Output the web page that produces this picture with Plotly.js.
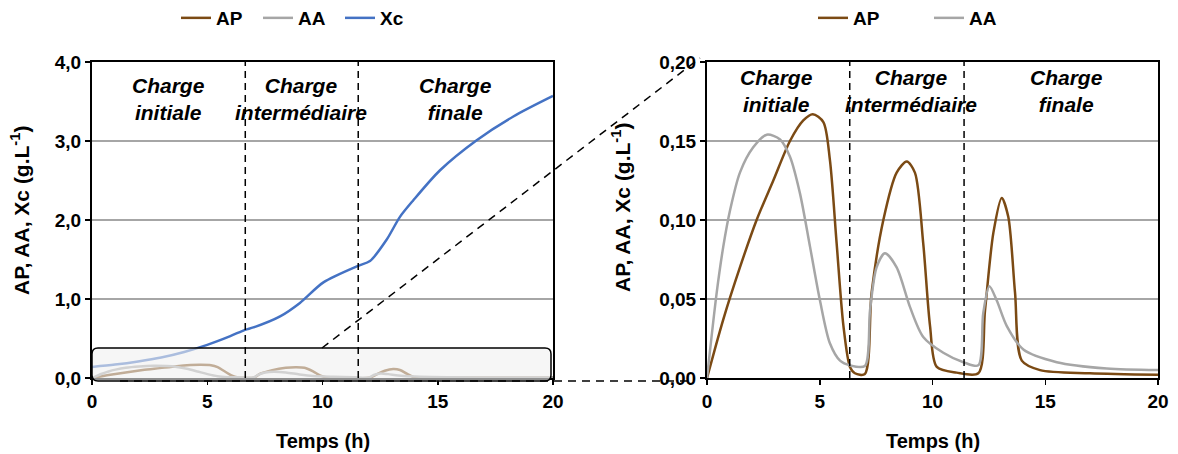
<!DOCTYPE html>
<html><head><meta charset="utf-8">
<script src="https://cdn.plot.ly/plotly-3.0.1.min.js"></script>
<style>html,body{margin:0;padding:0;background:#fff}#chart{width:1178px;height:454px}</style>
</head><body><div id="chart"></div>
<script>
// ---- data ----
const xcTime = [0, 1, 2, 3, 4, 5, 6, 6.64, 7.0, 8.16, 9.02, 10.04, 11.55, 12.06, 12.78, 13.36, 13.94, 15.1, 16.69, 18.28, 20];
const xcValues = [0.14, 0.17, 0.21, 0.26, 0.33, 0.42, 0.53, 0.61, 0.64, 0.78, 0.95, 1.21, 1.42, 1.48, 1.75, 2.04, 2.25, 2.63, 3.01, 3.31, 3.57];

const apTime = [0, 0.72, 1.46, 2.2, 2.94, 3.68, 4.27, 4.69, 5.16, 5.45, 5.75, 6.05, 6.34, 6.56, 7.0, 7.3, 7.82, 8.41, 8.86, 9.22, 9.59, 9.89, 10.19, 11.07, 12.03, 12.33, 12.7, 13.07, 13.36, 13.66, 13.96, 14.77, 16.98, 20];
const apValues = [0, 0.037, 0.070, 0.100, 0.125, 0.150, 0.163, 0.167, 0.162, 0.138, 0.085, 0.033, 0.007, 0.003, 0.0025, 0.054, 0.100, 0.130, 0.137, 0.130, 0.085, 0.033, 0.007, 0.0034, 0.003, 0.043, 0.092, 0.114, 0.102, 0.054, 0.011, 0.005, 0.003, 0.002];

const aaTime = [0, 0.43, 0.72, 1.02, 1.46, 2.05, 2.65, 3.24, 3.68, 4.12, 4.57, 5.01, 5.45, 5.9, 6.34, 7.0, 7.23, 7.52, 7.89, 8.41, 9.0, 9.59, 10.48, 11.37, 12.03, 12.25, 12.52, 12.85, 13.29, 14.03, 15.51, 17.73, 20];
const aaValues = [0, 0.054, 0.083, 0.106, 0.130, 0.146, 0.154, 0.151, 0.140, 0.117, 0.083, 0.049, 0.022, 0.011, 0.008, 0.0076, 0.043, 0.070, 0.079, 0.070, 0.045, 0.026, 0.016, 0.010, 0.008, 0.041, 0.058, 0.049, 0.033, 0.018, 0.010, 0.006, 0.005];

const seriesNames = ['AP', 'AA', 'Xc'];
const phaseLabels = ['Charge<br>initiale', 'Charge<br>intermédiaire', 'Charge<br>finale'];
const leftPhaseBounds = [6.65, 11.55];
const rightPhaseBounds = [6.33, 11.4];
const leftPhaseLabelX = [3.3, 9.07, 15.75];
const rightPhaseLabelX = [3.1, 9.05, 15.96];
const axisTitleX = 'Temps (h)';
const axisTitleY = 'AP, AA, Xc (g.L<sup>-1</sup>)';

// ---- styling ----
const FAM = 'Liberation Sans, Arial, sans-serif';
const cAP = '#7b4a14', cAA = '#a6a6a6', cXc = '#4472c4';
const W = 1178, H = 454, ML = 92, MR = 20, MT = 62, MB = 76;
const PW = W - ML - MR, PH = H - MT - MB;
const px = v => (v - ML) / PW;
const py = v => (H - MB - v) / PH;

const sm = 0.8;
const traces = [
  {x: apTime, y: apValues, name: seriesNames[0], mode: 'lines', line: {color: cAP, width: 2.5, shape: 'spline', smoothing: sm}, xaxis: 'x', yaxis: 'y', legend: 'legend'},
  {x: aaTime, y: aaValues, name: seriesNames[1], mode: 'lines', line: {color: cAA, width: 2.5, shape: 'spline', smoothing: sm}, xaxis: 'x', yaxis: 'y', legend: 'legend'},
  {x: xcTime, y: xcValues, name: seriesNames[2], mode: 'lines', line: {color: cXc, width: 2.5, shape: 'spline', smoothing: sm}, xaxis: 'x', yaxis: 'y', legend: 'legend'},
  {x: apTime, y: apValues, name: seriesNames[0], mode: 'lines', line: {color: cAP, width: 2.5, shape: 'spline', smoothing: sm}, xaxis: 'x2', yaxis: 'y2', legend: 'legend2'},
  {x: aaTime, y: aaValues, name: seriesNames[1], mode: 'lines', line: {color: cAA, width: 2.5, shape: 'spline', smoothing: sm}, xaxis: 'x2', yaxis: 'y2', legend: 'legend2'}
];

const tickFont = {family: FAM, size: 19, color: '#000', weight: 'bold'};
const axBase = {
  showline: true, mirror: true, linecolor: '#000', linewidth: 2,
  ticks: 'outside', ticklen: 5, tickwidth: 1.5, tickcolor: '#000',
  tickfont: tickFont, zeroline: false, fixedrange: true
};

const shapes = [];
// rectangle (zoom area) on left plot
const rx0 = px(92), rx1 = px(551), ry0 = py(381), ry1 = py(348);
const rrx = 6 / PW, rry = 6 / PH;
shapes.push({
  type: 'path', xref: 'paper', yref: 'paper', layer: 'above',
  path: `M${rx0 + rrx},${ry1} L${rx1 - rrx},${ry1} Q${rx1},${ry1} ${rx1},${ry1 - rry} L${rx1},${ry0 + rry} Q${rx1},${ry0} ${rx1 - rrx},${ry0} L${rx0 + rrx},${ry0} Q${rx0},${ry0} ${rx0},${ry0 + rry} L${rx0},${ry1 - rry} Q${rx0},${ry1} ${rx0 + rrx},${ry1} Z`,
  fillcolor: 'rgba(240,240,240,0.6)', line: {color: '#000', width: 1.5}
});
// phase boundaries
leftPhaseBounds.forEach(b => shapes.push({type: 'line', xref: 'x', yref: 'y domain', x0: b, x1: b, y0: 0, y1: 1, layer: 'above', line: {color: '#000', width: 1.5, dash: '7px,5px'}}));
rightPhaseBounds.forEach(b => shapes.push({type: 'line', xref: 'x2', yref: 'y2 domain', x0: b, x1: b, y0: 0, y1: 1, layer: 'above', line: {color: '#000', width: 1.5, dash: '7px,5px'}}));
// zoom connector lines
shapes.push({type: 'line', xref: 'paper', yref: 'paper', x0: px(322), y0: py(348), x1: px(700), y1: py(58), layer: 'above', line: {color: '#000', width: 1.5, dash: '8px,6px'}});
shapes.push({type: 'line', xref: 'paper', yref: 'paper', x0: px(120), y0: py(381), x1: px(692), y1: py(381), layer: 'above', line: {color: '#000', width: 1.5, dash: '8px,6px'}});

const annFont = {family: FAM, size: 21, color: '#000', weight: 'bold', style: 'italic'};
const annotations = [];
phaseLabels.forEach((t, i) => {
  annotations.push({text: t, xref: 'x', yref: 'y', x: leftPhaseLabelX[i], y: 3.53, showarrow: false, font: annFont, xanchor: 'center', yanchor: 'middle'});
  annotations.push({text: t, xref: 'x2', yref: 'y2', x: rightPhaseLabelX[i], y: 0.1816, showarrow: false, font: annFont, xanchor: 'center', yanchor: 'middle'});
});
const titleFont = {family: FAM, size: 20, color: '#000', weight: 'bold'};
const yTitleFont = {family: FAM, size: 21, color: '#000', weight: 'bold'};
annotations.push({text: axisTitleX, xref: 'x', yref: 'paper', x: 10, y: py(441), showarrow: false, font: titleFont, xanchor: 'center', yanchor: 'middle'});
annotations.push({text: axisTitleX, xref: 'x2', yref: 'paper', x: 10, y: py(441), showarrow: false, font: titleFont, xanchor: 'center', yanchor: 'middle'});
annotations.push({text: axisTitleY, xref: 'paper', yref: 'paper', x: px(20), y: py(211), textangle: -90, showarrow: false, font: yTitleFont, xanchor: 'center', yanchor: 'middle'});
annotations.push({text: axisTitleY, xref: 'paper', yref: 'paper', x: px(621), y: py(208), textangle: -90, showarrow: false, font: yTitleFont, xanchor: 'center', yanchor: 'middle'});

const legFont = {family: FAM, size: 19, color: '#000', weight: 'bold'};
const layout = {
  width: W, height: H,
  margin: {l: ML, r: MR, t: MT, b: MB, autoexpand: false},
  paper_bgcolor: '#fff', plot_bgcolor: '#fff',
  separators: ', ',
  showlegend: true,
  font: {family: FAM, color: '#000'},
  xaxis: Object.assign({}, axBase, {domain: [0, px(553)], range: [0, 20], dtick: 5, showgrid: false, anchor: 'y'}),
  yaxis: Object.assign({}, axBase, {domain: [0, 1], range: [0, 4], dtick: 1, tickformat: '.1f', showgrid: true, gridcolor: '#a6a6a6', gridwidth: 1.5, anchor: 'x'}),
  xaxis2: Object.assign({}, axBase, {domain: [px(707), 1], range: [0, 20], dtick: 5, showgrid: false, anchor: 'y2'}),
  yaxis2: Object.assign({}, axBase, {domain: [0, 1], range: [0, 0.2], dtick: 0.05, tickformat: '.2f', showgrid: true, gridcolor: '#a6a6a6', gridwidth: 1.5, anchor: 'x2'}),
  legend: {orientation: 'h', x: px(176), xanchor: 'left', y: py(18), yanchor: 'middle', font: legFont, entrywidth: 37, bgcolor: 'rgba(0,0,0,0)'},
  legend2: {orientation: 'h', x: px(813), xanchor: 'left', y: py(18), yanchor: 'middle', font: legFont, entrywidth: 71, bgcolor: 'rgba(0,0,0,0)'},
  shapes: shapes,
  annotations: annotations
};
Plotly.newPlot('chart', traces, layout, {staticPlot: true, displayModeBar: false});
</script>
</body></html>
